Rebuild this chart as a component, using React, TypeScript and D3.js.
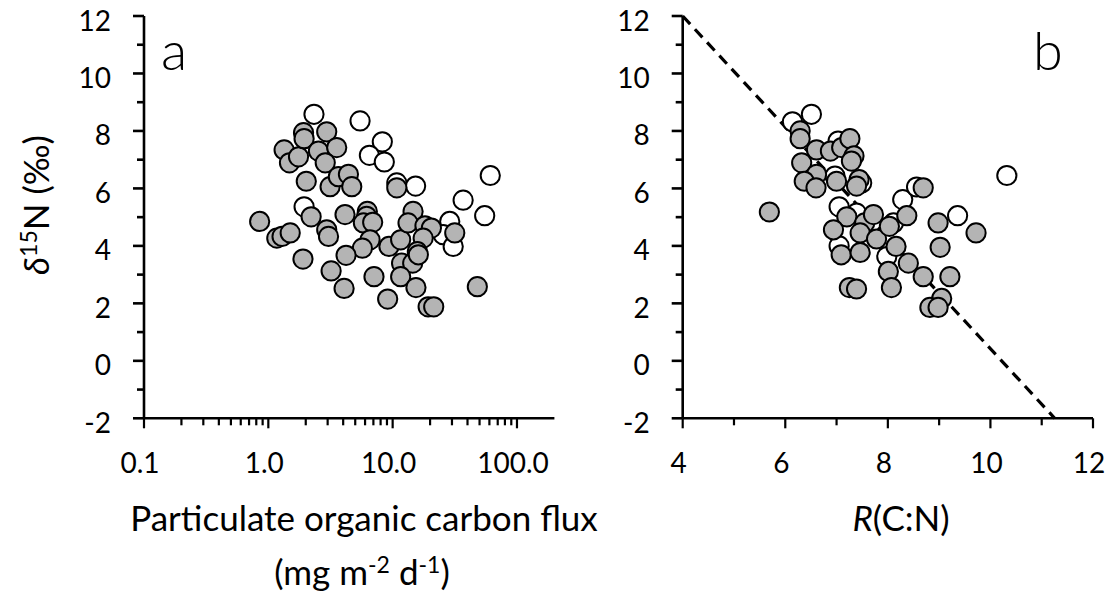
import React from 'react';
import * as d3 from 'd3';

// ---------- data ----------
const yTickValues = [-2, 0, 2, 4, 6, 8, 10, 12];
const xTickValuesA = [0.1, 1, 10, 100];
const xTickLabelsA = ['0.1', '1.0', '10.0', '100.0'];
const xTickValuesB = [4, 6, 8, 10, 12];

// Panel a: POC flux (log) vs d15N
const openA: [number, number][] = [
  [2.33, 8.58], [5.47, 8.35], [8.26, 7.62], [6.5, 7.15], [8.57, 6.92], [10.8, 6.19],
  [15.3, 6.08], [61, 6.45], [36.9, 5.59], [55, 5.05], [1.94, 5.36], [28.8, 4.85],
  [25.5, 4.39], [30.7, 3.98],
];
const grayA: [number, number][] = [
  [0.852, 4.85], [1.17, 4.27], [1.29, 4.33], [1.5, 4.45], [1.9, 3.54], [1.34, 7.34],
  [1.48, 6.89], [1.75, 7.1], [1.92, 7.94], [1.94, 7.73], [2.95, 7.97], [2.53, 7.3],
  [3.55, 7.42], [2.87, 6.89], [2.02, 6.25], [3.14, 6.06], [3.66, 6.41], [4.41, 6.49],
  [4.69, 6.06], [2.21, 5.01], [2.95, 4.56], [3.05, 4.33], [4.14, 5.09], [6.26, 5.2],
  [6.18, 5.03], [5.82, 4.8], [6.91, 4.82], [6.58, 4.21], [5.71, 3.92], [4.22, 3.67],
  [3.2, 3.13], [4.07, 2.52], [7.08, 2.93], [9.12, 2.15], [9.34, 3.98], [10.8, 6.02],
  [11.6, 4.21], [14.6, 5.2], [13.3, 4.8], [18.2, 4.7], [20.5, 4.62], [17.6, 4.27],
  [31.6, 4.45], [15.8, 3.8], [11.8, 3.4], [14.5, 3.4], [11.6, 2.93], [15.4, 2.55],
  [19.3, 1.88], [21.4, 1.88], [48.0, 2.58], [16.1, 3.69],
];

// Panel b: R(C:N) vs d15N
const openB: [number, number][] = [
  [6.51, 8.58], [6.14, 8.32], [10.32, 6.45], [9.36, 5.05], [8.29, 5.61], [8.56, 6.05],
  [7.05, 5.36], [7.05, 4.0], [7.03, 7.65], [6.97, 6.43], [7.49, 6.19], [8.11, 4.8],
  [7.98, 3.63], [7.39, 5.14],
];
const grayB: [number, number][] = [
  [5.69, 5.18], [6.29, 8.0], [6.29, 7.73], [6.61, 7.34], [6.88, 7.3], [7.1, 7.42],
  [7.26, 7.73], [7.34, 7.13], [7.29, 6.95], [6.32, 6.89], [6.61, 6.49], [6.37, 6.25],
  [6.6, 6.02], [7.0, 6.25], [7.44, 6.31], [7.39, 6.08], [7.2, 5.01], [6.94, 4.56],
  [7.09, 3.69], [7.46, 3.77], [7.55, 4.8], [7.72, 5.09], [7.46, 4.45], [7.78, 4.24],
  [8.03, 4.68], [8.16, 3.98], [8.4, 3.4], [8.01, 3.11], [8.07, 2.55], [8.69, 2.93],
  [8.37, 5.05], [8.69, 6.02], [8.98, 4.8], [9.02, 3.95], [9.21, 2.93], [9.72, 4.45],
  [7.25, 2.55], [7.39, 2.5], [9.05, 2.17], [8.82, 1.86], [8.98, 1.86],
];

const trendIntercept = 19.72;
const trendSlope = -1.93;

// ---------- layout ----------
const W = 1113;
const H = 599;
const FONT = 'Lato, "Open Sans", "DejaVu Sans", sans-serif';
const GRAY = '#b4b4b4';
const R = 9.6;
const TITLE = 35;

const y = d3.scaleLinear().domain([-2, 12]).range([418.3, 16]);
const xA = d3.scaleLog().domain([0.1, 200]).range([144, 554.4]);
const xB = d3.scaleLinear().domain([4, 12]).range([682.7, 1093]);

function YAxis({ x0 }: { x0: number }) {
  const minor = d3.range(-2, 13, 1);
  return (
    <g>
      <line x1={x0} x2={x0} y1={y(12)} y2={y(-2)} stroke="#000" strokeWidth={2.6} />
      {minor.map((v) => {
        const major = v % 2 === 0;
        return (
          <line key={v} x1={x0 - (major ? 11 : 7)} x2={x0} y1={y(v)} y2={y(v)} stroke="#000" strokeWidth={2.6} />
        );
      })}
      {yTickValues.map((v) => (
        <text key={v} x={x0 - 33} y={y(v) + 14.5} textAnchor="end" fontSize={28} fontFamily={FONT}>
          {v}
        </text>
      ))}
    </g>
  );
}

export default function App() {
  const baseY = y(-2);
  const logMinor = xA.ticks().filter((t) => t <= 100.0001);
  const isDecade = (t: number) => Math.abs(Math.log10(t) - Math.round(Math.log10(t))) < 1e-6;
  const xEnd = (-2 - trendIntercept) / trendSlope;
  const lineGen = d3
    .line<number>()
    .x((d) => xB(d))
    .y((d) => y(trendIntercept + trendSlope * d));

  const circle = (pts: [number, number][], sx: (v: number) => number, fill: string, key: string) =>
    pts.map((p, i) => (
      <circle key={key + i} cx={sx(p[0])} cy={y(p[1])} r={R} fill={fill} stroke="#000" strokeWidth={2} />
    ));

  return (
    <svg width={W} height={H} style={{ position: 'absolute', left: 0, top: 0, background: '#fff' }}>
      <rect width={W} height={H} fill="#fff" />

      {/* Panel a */}
      <YAxis x0={xA(0.1)} />
      <line x1={xA(0.1)} x2={xA(200)} y1={baseY} y2={baseY} stroke="#000" strokeWidth={2.6} />
      {logMinor.map((t, i) => (
        <line key={'ta' + i} x1={xA(t)} x2={xA(t)} y1={baseY} y2={baseY + (isDecade(t) ? 10 : 7)} stroke="#000" strokeWidth={2.2} />
      ))}
      {xTickValuesA.map((t, i) => (
        <text key={'la' + i} x={xA(t) - 4} y={473} textAnchor="middle" fontSize={28} fontFamily={FONT}>
          {xTickLabelsA[i]}
        </text>
      ))}
      {circle(openA, xA, '#fff', 'oa')}
      {circle(grayA, xA, GRAY, 'ga')}
      <text x={161} y={70} fontSize={54} fontWeight={300} fontFamily={FONT}>a</text>

      {/* Panel b */}
      <YAxis x0={xB(4)} />
      <line x1={xB(4)} x2={xB(12)} y1={baseY} y2={baseY} stroke="#000" strokeWidth={2.6} />
      {d3.range(4, 13, 1).map((t) => (
        <line key={'tb' + t} x1={xB(t)} x2={xB(t)} y1={baseY} y2={baseY + (t % 2 === 0 ? 10 : 7)} stroke="#000" strokeWidth={2.2} />
      ))}
      {xTickValuesB.map((t) => (
        <text key={'lb' + t} x={xB(t) - 4} y={473} textAnchor="middle" fontSize={28} fontFamily={FONT}>
          {t}
        </text>
      ))}
      <path d={lineGen([4, xEnd]) || ''} fill="none" stroke="#000" strokeWidth={3.2} strokeDasharray="11,7" />
      {circle(openB, xB, '#fff', 'ob')}
      {circle(grayB, xB, GRAY, 'gb')}
      <text x={1033} y={70} fontSize={54} fontWeight={300} fontFamily={FONT}>b</text>

      {/* Axis titles */}
      <text transform="rotate(-90)" x={-205} y={49} textAnchor="middle" fontSize={TITLE} fontFamily={FONT}>
        <tspan fontStyle="italic">δ</tspan>
        <tspan dy={-12} fontSize={23}>15</tspan>
        <tspan dy={12}>N (‰)</tspan>
      </text>
      <text x={364} y={531} textAnchor="middle" fontSize={TITLE} fontFamily={FONT}>
        Particulate organic carbon flux
      </text>
      <text x={362} y={585} textAnchor="middle" fontSize={TITLE} fontFamily={FONT}>
        (mg m<tspan dy={-12} fontSize={23}>-2</tspan>
        <tspan dy={12}> d</tspan>
        <tspan dy={-12} fontSize={23}>-1</tspan>
        <tspan dy={12}>)</tspan>
      </text>
      <text x={901} y={531} textAnchor="middle" fontSize={TITLE} fontFamily={FONT}>
        <tspan fontStyle="italic">R</tspan>(C:N)
      </text>
    </svg>
  );
}
